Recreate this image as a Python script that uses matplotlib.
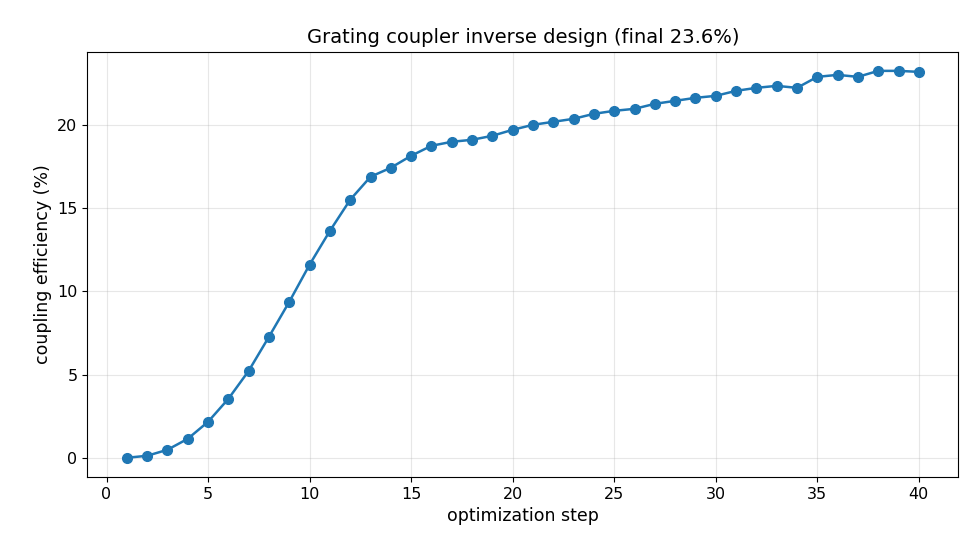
import matplotlib
matplotlib.use("Agg")
import matplotlib.pyplot as plt

steps = list(range(1, 41))
efficiency = [0.0, 0.12, 0.48, 1.14, 2.16, 3.54, 5.22, 7.27, 9.37, 11.6,
              13.63, 15.5, 16.88, 17.42, 18.14, 18.74, 18.98, 19.1, 19.34, 19.7,
              20.0, 20.18, 20.36, 20.66, 20.84, 20.96, 21.26, 21.44, 21.62, 21.74,
              22.04, 22.22, 22.34, 22.22, 22.88, 23.0, 22.88, 23.24, 23.24, 23.18]

fig, ax = plt.subplots(figsize=(9.8, 5.6), dpi=100)
ax.plot(steps, efficiency, marker='o', color='#1f77b4', linewidth=1.8, markersize=7)
ax.set_title("Grating coupler inverse design (final 23.6%)", fontsize=14)
ax.set_xlabel("optimization step", fontsize=12.5)
ax.set_ylabel("coupling efficiency (%)", fontsize=12.5)
ax.tick_params(labelsize=11.5)
ax.grid(True, alpha=0.3)
fig.subplots_adjust(left=0.089, right=0.978, top=0.908, bottom=0.148)
fig.savefig("out.png")
